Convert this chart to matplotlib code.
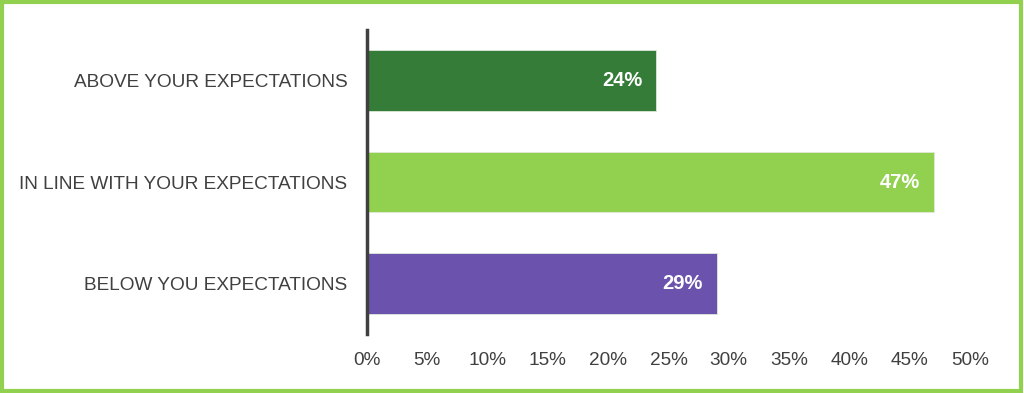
import matplotlib
matplotlib.use('Agg')

import matplotlib.pyplot as plt
from matplotlib.patches import Rectangle

categories = ["ABOVE YOUR EXPECTATIONS",
              "IN LINE WITH YOUR EXPECTATIONS",
              "BELOW YOU EXPECTATIONS"]
values = [24, 47, 29]
colors = ["#367c39", "#92d14f", "#6b53ad"]
xticks = [0, 5, 10, 15, 20, 25, 30, 35, 40, 45, 50]

plt.rcParams['font.family'] = ['Liberation Sans', 'DejaVu Sans']

fig = plt.figure(figsize=(10.24, 3.93), dpi=100)
ax = fig.add_axes([0.3584, 0.150, 0.9473 - 0.3584, 0.9237 - 0.150])

ypos = list(range(len(categories)))
ax.barh(ypos, values, height=0.6, color=colors, edgecolor="#dfe8d8", linewidth=0.6)

for y, v in zip(ypos, values):
    ax.annotate(f"{v}%", xy=(v, y), xytext=(-10, 0), textcoords="offset points",
                ha="right", va="center", color="white", fontsize=14.5, fontweight="bold")

ax.set_ylim(len(categories) - 0.5, -0.5)
ax.set_xlim(0, 50)
ax.set_yticks(ypos)
ax.set_yticklabels(categories, fontsize=13.7, color="#404040")
ax.set_xticks(xticks)
ax.set_xticklabels([f"{t}%" for t in xticks], fontsize=13.7, color="#404040")
ax.tick_params(axis="both", length=0)
ax.tick_params(axis="y", pad=14)
ax.tick_params(axis="x", pad=13)

for side in ["top", "right", "bottom"]:
    ax.spines[side].set_visible(False)
ax.spines["left"].set_color("#404040")
ax.spines["left"].set_linewidth(2.5)

fig.patches.append(Rectangle((0.002, 0.004), 0.995, 0.990, transform=fig.transFigure,
                             fill=False, edgecolor="#92d14f", linewidth=3))

fig.savefig("out.png", dpi=100)
